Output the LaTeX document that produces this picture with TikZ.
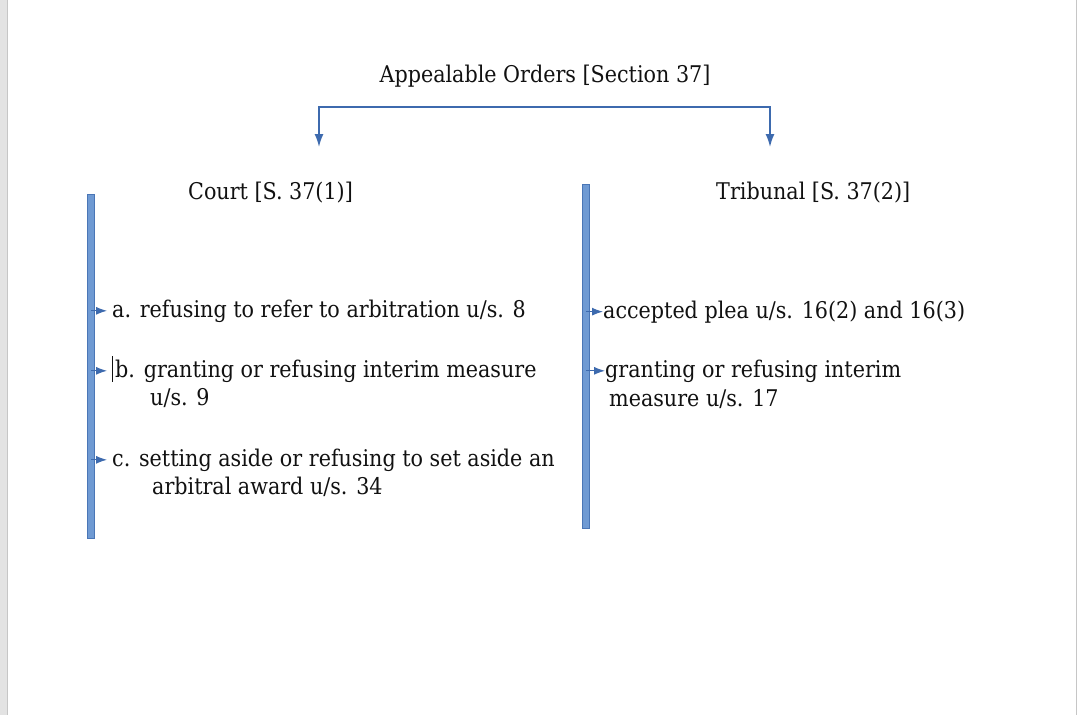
\documentclass[tikz,border=0pt]{standalone}
\usepackage{fontspec}
\setmainfont{DejaVu Serif Condensed}
\usetikzlibrary{arrows.meta}
\definecolor{barblue}{HTML}{6F9AD3}
\definecolor{bardark}{HTML}{4A76B6}
\definecolor{arrblue}{HTML}{3D6AAE}
\definecolor{inkgray}{HTML}{111111}
\tikzset{
  headtext/.style={anchor=base, inner sep=0pt, text=inkgray, font=\fontsize{23}{28}\selectfont},
  itemtext/.style={anchor=base west, inner sep=0pt, text=inkgray, font=\fontsize{23}{28}\selectfont},
  bar/.style={fill=barblue, draw=bardark, line width=0.8pt, minimum width=7pt, inner sep=0pt, anchor=north},
  branch/.style={draw=arrblue, line width=1.6pt, -{Latex[length=13pt,width=9pt]}},
  tick/.style={draw=arrblue, line width=1pt, -{Latex[length=11pt,width=8pt]}}
}

\begin{document}
\begin{tikzpicture}[x=1pt, y=-1pt]
    \useasboundingbox (0,0) rectangle (1079,715);
    \fill[white] (0,0) rectangle (1079,715);
    % page edges
    \fill[gray!22] (0,0) rectangle (7,715);
    \draw[gray!45, line width=1pt] (7.5,0) -- (7.5,715);
    \draw[gray!45, line width=1pt] (1076.5,0) -- (1076.5,715);
    % heading and branch
    \node[headtext] (title) at (545,82) {Appealable Orders [Section 37]};
    \coordinate (split) at (545,107);
    \coordinate (courttip) at (319,147);
    \coordinate (tribtip) at (770,147);
    \draw[branch] (split) -| (courttip);
    \draw[branch] (split) -| (tribtip);
    % column heads
    \node[itemtext] (court) at (188,199) {Court [S. 37(1)]};
    \node[itemtext] (tribunal) at (716,199) {Tribunal [S. 37(2)]};
    % bars
    \node[bar, minimum height=344pt] (courtbar) at (91,194) {};
    \node[bar, minimum height=344pt] (tribbar) at (586,184) {};
    % court items
    \node[itemtext] (ca) at (112,317) {a. refusing to refer to arbitration u/s. 8};
    \node[itemtext] (cb) at (115,377) {b. granting or refusing interim measure};
    \node[itemtext] (cb2) at (150,405) {u/s. 9};
    \node[itemtext] (cc) at (112,466) {c. setting aside or refusing to set aside an};
    \node[itemtext] (cc2) at (152,494) {arbitral award u/s. 34};
    \draw[inkgray, line width=0.8pt] (112,356) -- (112,382);
    \draw[tick] (courtbar.center |- ca.west) -- ([xshift=-5pt]ca.west);
    \draw[tick] (courtbar.center |- cb.west) -- ([xshift=-8pt]cb.west);
    \draw[tick] (courtbar.center |- cc.west) -- ([xshift=-5pt]cc.west);
    % tribunal items
    \node[itemtext] (ta) at (603,318) {accepted plea u/s. 16(2) and 16(3)};
    \node[itemtext] (tb) at (605,377) {granting or refusing interim};
    \node[itemtext] (tb2) at (609,406) {measure u/s. 17};
    \draw[tick] (tribbar.center |- ta.west) -- (ta.west);
    \draw[tick] (tribbar.center |- tb.west) -- (tb.west);
\end{tikzpicture}
\end{document}
